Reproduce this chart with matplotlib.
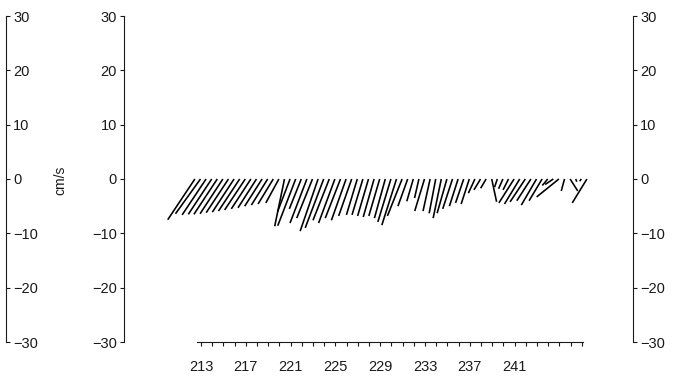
import numpy as np
import matplotlib
matplotlib.use("Agg")
import matplotlib.pyplot as plt

plt.rcParams["font.family"] = ["Liberation Sans", "DejaVu Sans"]

# stick (current vector) series, half-day samples starting near day 212.5
t_start = 212.45
t_step = 0.5
u_east = [-5.0, -4.6, -4.4, -4.3, -4.3, -4.2, -4.1, -4.0, -3.9, -3.8,
          -3.6, -3.4, -3.2, -3.0, -2.8, -2.4, -1.8, -2.3, -3.3, -2.2,
          -3.1, -2.9, -3.3, -3.4, -3.0, -3.0, -2.8, -2.7, -2.4, -2.0,
          -2.0, -2.0, -2.0, -2.0, -2.0, -2.4, -2.7, -2.7, -1.8, -1.2,
          -0.8, -1.8, -1.3, -1.2, -1.5, -1.8, -1.8, -1.6, -1.5, -1.5,
          -1.2, -1.2, -1.0, 0.9, -0.5, -0.8, -1.0, -2.8, -2.8, -2.8,
          -2.6, -2.8, -2.4, -1.0, -1.5, -4.1, -0.6, 1.4, 0.2, -0.3, -2.7]
v_north = [-7.5, -6.4, -6.6, -6.5, -6.5, -6.4, -6.2, -6.1, -5.9, -5.7,
           -5.5, -5.3, -5.0, -4.8, -4.6, -4.4, -8.7, -6.0, -8.6, -5.5,
           -8.1, -7.2, -9.6, -9.0, -7.6, -8.1, -7.2, -7.6, -6.8, -6.6,
           -6.6, -6.8, -7.0, -6.8, -7.2, -7.9, -8.5, -6.8, -5.0, -4.1,
           -3.5, -5.9, -5.9, -6.3, -7.2, -6.3, -5.5, -5.0, -4.4, -4.6,
           -2.6, -2.0, -1.7, -4.2, -1.5, -1.8, -2.0, -4.4, -4.6, -4.2,
           -4.0, -4.8, -4.0, -1.2, -1.0, -3.3, -2.2, -2.2, -0.5, -0.4, -4.4]
days = t_start + t_step * np.arange(len(u_east))

y_ticks = [-30, -20, -10, 0, 10, 20, 30]
x_major = [213, 217, 221, 225, 229, 233, 237, 241]
x_minor = np.arange(213, 248)

W, H = 673, 379
fig = plt.figure(figsize=(W / 100, H / 100), dpi=100)
ink = "#1a1a1a"
bot = (H - 342) / H
hgt = 326 / H


def y_scale(x_px, side):
    ax = fig.add_axes([x_px / W, bot, 0.0005, hgt])
    ax.set_ylim(-30, 30)
    ax.set_yticks(y_ticks)
    ax.set_xticks([])
    ax.patch.set_alpha(0)
    for s in ax.spines.values():
        s.set_visible(False)
    if side == "right":
        ax.yaxis.tick_right()
        ax.spines["right"].set_visible(True)
        ax.spines["right"].set_color(ink)
    else:
        ax.spines["left"].set_visible(True)
        ax.spines["left"].set_color(ink)
    ax.tick_params(axis="y", length=3, width=0.8, color=ink, pad=2,
                   labelsize=10.5, labelcolor=ink)
    return ax


y_scale(6, "right")
y_scale(124, "left")
y_scale(633, "right")
fig.text(60 / W, 1 - 180 / H, "cm/s", rotation=90, ha="center", va="center",
         fontsize=10, color=ink)

ax = fig.add_axes([197 / W, bot, 386 / W, hgt])
ax.patch.set_alpha(0)
ax.set_xlim(212.64, 247.1)
ax.set_ylim(-30, 30)
for s in ["top", "left", "right"]:
    ax.spines[s].set_visible(False)
ax.spines["bottom"].set_color(ink)
ax.spines["bottom"].set_linewidth(0.8)
ax.set_yticks([])
ax.set_xticks(x_major)
ax.set_xticks(x_minor, minor=True)
ax.tick_params(axis="x", which="both", length=3, width=0.8, color=ink,
               direction="out", pad=10, labelsize=10.5, labelcolor=ink)

ax.quiver(days, np.zeros(len(days)), u_east, v_north, angles="uv",
          scale_units="y", scale=1, pivot="tail", color="black",
          width=0.0042, headwidth=0, headlength=0, headaxislength=0,
          clip_on=False)

fig.savefig("out.png", dpi=100)
